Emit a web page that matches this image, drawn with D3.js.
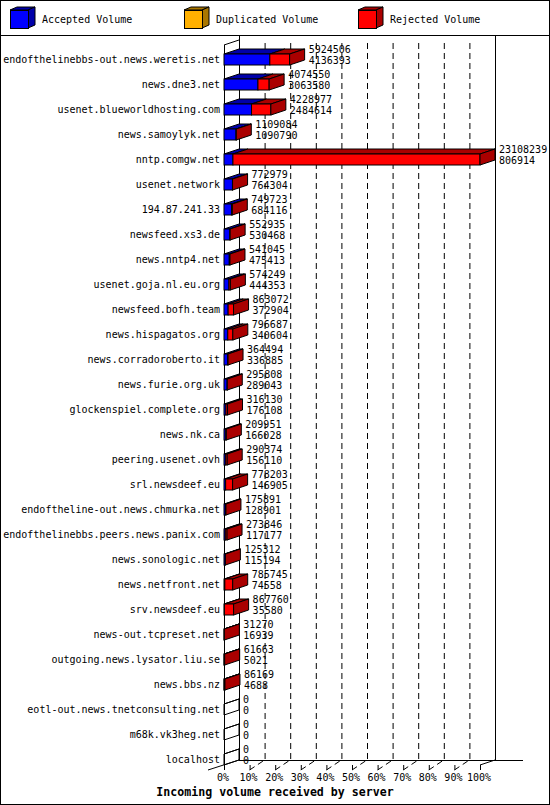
<!DOCTYPE html>
<html>
<head>
<meta charset="utf-8">
<script src="https://cdn.jsdelivr.net/npm/d3@7"></script>
<style>
  body { margin: 0; background: #fff; }
  svg text { font-family: "DejaVu Sans Mono", monospace; font-size: 10px; fill: #000; }
</style>
</head>
<body>
<div id="chart"></div>
<script>
// servers, top to bottom
const servers = [
  "endofthelinebbs-out.news.weretis.net", "news.dne3.net", "usenet.blueworldhosting.com",
  "news.samoylyk.net", "nntp.comgw.net", "usenet.network", "194.87.241.33",
  "newsfeed.xs3.de", "news.nntp4.net", "usenet.goja.nl.eu.org", "newsfeed.bofh.team",
  "news.hispagatos.org", "news.corradoroberto.it", "news.furie.org.uk",
  "glockenspiel.complete.org", "news.nk.ca", "peering.usenet.ovh", "srl.newsdeef.eu",
  "endoftheline-out.news.chmurka.net", "endofthelinebbs.peers.news.panix.com",
  "news.sonologic.net", "news.netfront.net", "srv.newsdeef.eu", "news-out.tcpreset.net",
  "outgoing.news.lysator.liu.se", "news.bbs.nz", "eotl-out.news.tnetconsulting.net",
  "m68k.vk3heg.net", "localhost"
];
// upper number next to each bar = total received
const totalVol = [
  5924506, 4074550, 4228977, 1109084, 23108239, 772979, 749723, 552935, 541045, 574249,
  863072, 796687, 364494, 295808, 316130, 209951, 290374, 778203, 175891, 273846,
  125312, 785745, 867760, 31270, 61663, 86169, 0, 0, 0
];
// lower number = accepted
const acceptedVol = [
  4136393, 3063580, 2484614, 1090790, 806914, 764304, 684116, 530468, 475413, 444353,
  372904, 340604, 336885, 289043, 176108, 166028, 156110, 146905, 128901, 117177,
  115194, 74558, 35580, 16939, 5021, 4688, 0, 0, 0
];
const duplicatedVol = [
  0, 0, 0, 0, 0, 0, 0, 0, 0, 0, 0, 0, 0, 0, 0, 0, 0, 0, 0, 0, 0, 0, 0, 0, 0, 0, 0, 0, 0
];
const tickPct = [0, 10, 20, 30, 40, 50, 60, 70, 80, 90, 100];
const legendNames = ["Accepted Volume", "Duplicated Volume", "Rejected Volume"];
const faceColors = ["#0000ff", "#ffb000", "#ff0000"];
const sideColors = ["#0000aa", "#aa7700", "#aa0000"];

const W = 550, H = 805;
const plotLeft = 224, plotRight = 480, plotTop = 45, floorY = 765;
const dx = 15, dy = -5;      // depth offset of the 3D look
const barH = 11;

const svg = d3.select("#chart").append("svg")
  .attr("width", W).attr("height", H);

svg.append("rect").attr("x", 0.5).attr("y", 0.5)
  .attr("width", W - 1).attr("height", H - 1)
  .attr("fill", "#fff").attr("stroke", "#000");

// legend
svg.append("line").attr("x1", 0).attr("x2", W).attr("y1", 35.5).attr("y2", 35.5).attr("stroke", "#000");
const legX = [10, 184, 358];
legendNames.forEach((name, i) => {
  const g = svg.append("g").attr("transform", `translate(${legX[i]},10)`);
  const s = 18, ddx = 7, ddy = -3;
  g.append("polygon").attr("points", [[0, 0], [s, 0], [s + ddx, ddy], [ddx, ddy]].join(" "))
    .attr("fill", sideColors[i]).attr("stroke", "#000");
  g.append("polygon").attr("points", [[s, 0], [s, s], [s + ddx, s + ddy], [s + ddx, ddy]].join(" "))
    .attr("fill", sideColors[i]).attr("stroke", "#000");
  g.append("rect").attr("x", 0.5).attr("y", 0.5).attr("width", s).attr("height", s)
    .attr("fill", faceColors[i]).attr("stroke", "#000");
  g.append("text").attr("x", 32).attr("y", 10).attr("dominant-baseline", "middle").text(name);
});

const maxTotal = d3.max(totalVol);
const x = d3.scaleLinear().domain([0, maxTotal]).range([plotLeft, plotRight]);
const pct = d3.scaleLinear().domain([0, 100]).range([plotLeft, plotRight]);
const y = d3.scaleBand().domain(d3.range(servers.length))
  .range([47, 772]).paddingInner(0).align(0.5);

// back wall grid
const grid = svg.append("g").attr("stroke", "#000");
grid.selectAll("line.g").data(tickPct.slice(1, -1)).join("line")
  .attr("x1", d => pct(d) + dx + 0.5).attr("x2", d => pct(d) + dx + 0.5)
  .attr("y1", plotTop + dy + 3).attr("y2", floorY + dy)
  .attr("stroke-dasharray", "6,4");
// back-left, right walls
grid.append("line").attr("x1", plotLeft + dx + 0.5).attr("x2", plotLeft + dx + 0.5)
  .attr("y1", 36).attr("y2", floorY + dy);
grid.append("line").attr("x1", plotRight + dx + 0.5).attr("x2", plotRight + dx + 0.5)
  .attr("y1", 36).attr("y2", floorY + dy);
// floor
grid.append("line").attr("x1", plotLeft + dx).attr("x2", 523)
  .attr("y1", floorY + dy + 0.5).attr("y2", floorY + dy + 0.5);
grid.append("line").attr("x1", plotLeft - 16).attr("y1", floorY + 5)
  .attr("x2", plotLeft + dx).attr("y2", floorY + dy);
grid.append("line").attr("x1", plotRight).attr("y1", floorY)
  .attr("x2", plotRight + dx).attr("y2", floorY + dy);
// front axis
grid.append("line").attr("x1", plotLeft + 0.5).attr("x2", plotLeft + 0.5)
  .attr("y1", plotTop).attr("y2", floorY + 5);
grid.append("line").attr("x1", plotLeft).attr("y1", plotTop)
  .attr("x2", plotLeft + dx).attr("y2", plotTop + dy);

// x ticks
grid.selectAll("line.t").data(tickPct.slice(1)).join("line")
  .attr("x1", d => pct(d) + 0.5).attr("x2", d => pct(d) + 0.5)
  .attr("y1", floorY).attr("y2", floorY + 5);
grid.selectAll("line.s").data(tickPct.slice(1, -1)).join("line")
  .attr("x1", d => pct(d)).attr("y1", floorY + 5)
  .attr("x2", d => pct(d) + dx).attr("y2", floorY + dy)
  .attr("stroke-dasharray", "6,4");
svg.append("g").selectAll("text").data(tickPct).join("text")
  .attr("x", d => pct(d) - 1).attr("y", floorY + 13)
  .attr("text-anchor", "middle").attr("dominant-baseline", "middle")
  .text(d => d + "%");

// bars
const bars = svg.append("g").selectAll("g").data(servers).join("g");
bars.each(function (name, i) {
  const g = d3.select(this);
  const yt = y(i) + y.bandwidth() / 2 - 5.5, yb = yt + barH;
  const segs = [
    [0, acceptedVol[i]],
    [acceptedVol[i], acceptedVol[i] + duplicatedVol[i]],
    [acceptedVol[i] + duplicatedVol[i], totalVol[i]]
  ];
  let last = -1;
  segs.forEach((s, k) => {
    if (s[1] > s[0]) last = k;
  });
  segs.forEach((s, k) => {
    if (s[1] <= s[0]) return;
    const x0 = x(s[0]), x1 = x(s[1]);
    g.append("polygon")
      .attr("points", [[x0, yt], [x1, yt], [x1 + dx, yt + dy], [x0 + dx, yt + dy]].join(" "))
      .attr("fill", sideColors[k]).attr("stroke", "#000");
    g.append("rect").attr("x", x0).attr("y", yt).attr("width", x1 - x0).attr("height", barH)
      .attr("fill", faceColors[k]).attr("stroke", "#000");
  });
  const xe = x(totalVol[i]);
  g.append("polygon")
    .attr("points", [[xe, yt], [xe, yb], [xe + dx, yb + dy], [xe + dx, yt + dy]].join(" "))
    .attr("fill", last >= 0 ? sideColors[last] : "none").attr("stroke", "#000");
  if (last < 0) {
    g.append("line").attr("x1", xe).attr("y1", yt).attr("x2", xe + dx).attr("y2", yt + dy)
      .attr("stroke", "#000");
  }
  g.append("text").attr("x", xe + dx + 4).attr("y", yt - 4.5)
    .attr("dominant-baseline", "middle").text(totalVol[i]);
  g.append("text").attr("x", xe + dx + 4).attr("y", yt + 7)
    .attr("dominant-baseline", "middle").text(acceptedVol[i]);
  g.append("text").attr("x", plotLeft - 4).attr("y", yt + 5.5)
    .attr("text-anchor", "end").attr("dominant-baseline", "middle").text(name);
});

svg.append("text").attr("x", 275).attr("y", 792)
  .attr("text-anchor", "middle").attr("dominant-baseline", "middle")
  .style("font-weight", "bold").style("font-size", "11.6px")
  .text("Incoming volume received by server");
</script>
</body>
</html>
